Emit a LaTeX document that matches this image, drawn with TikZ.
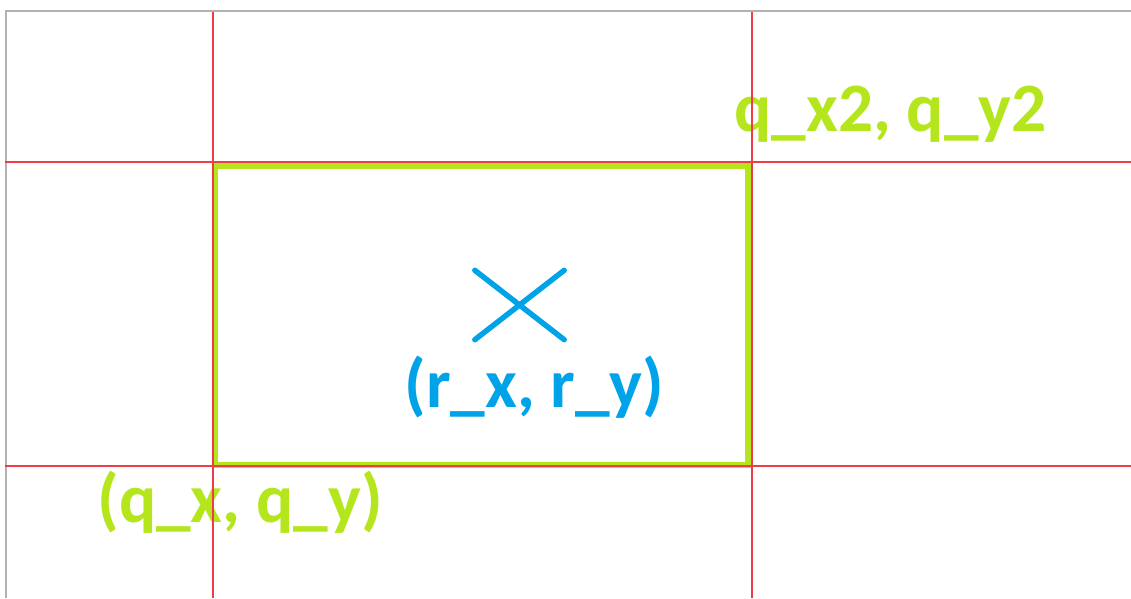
\documentclass[tikz,border=0pt]{standalone}
\usepackage{fontspec}
\setmainfont{Carlito}
\usetikzlibrary{shapes.misc}
\definecolor{qgreen}{RGB}{181,230,29}
\definecolor{rblue}{RGB}{0,162,232}
\definecolor{guide}{RGB}{240,60,70}

\begin{document}
\begin{tikzpicture}[x=0.02cm, y=-0.02cm, every node/.style={font=\fontsize{39.5}{41}\selectfont\bfseries, inner sep=0pt}, box/.style={draw=qgreen, line width=3.4pt, minimum width=10.66cm, minimum height=5.98cm}, pt/.style={cross out, draw=rblue, line width=3.1pt, line cap=round, minimum width=1.68cm, minimum height=1.28cm}, gl/.style={guide, line width=0.8pt}]
\useasboundingbox (0,0) rectangle (1131,598);
\draw[gray!60, line width=0.6pt] (1131,11) -- (6,11) -- (6,598);
\node[box] (q) at (481.5,315.5) {};
\node[pt] (r) at (519.5,305) {};
\node[text=rblue, anchor=base west] (rl) at (404,407) {(r\_x, r\_y)};
\node[text=qgreen, anchor=base west] (ql) at (97,522) {(q\_x, q\_y)};
\node[text=qgreen, anchor=base west] (q2l) at (734,132) {q\_x2, q\_y2};
\draw[gl] (213,12) -- (213,598); \draw[gl] (752,12) -- (752,598); \draw[gl] (5,162) -- (1131,162); \draw[gl] (5,466) -- (1131,466);
\end{tikzpicture}
\end{document}
